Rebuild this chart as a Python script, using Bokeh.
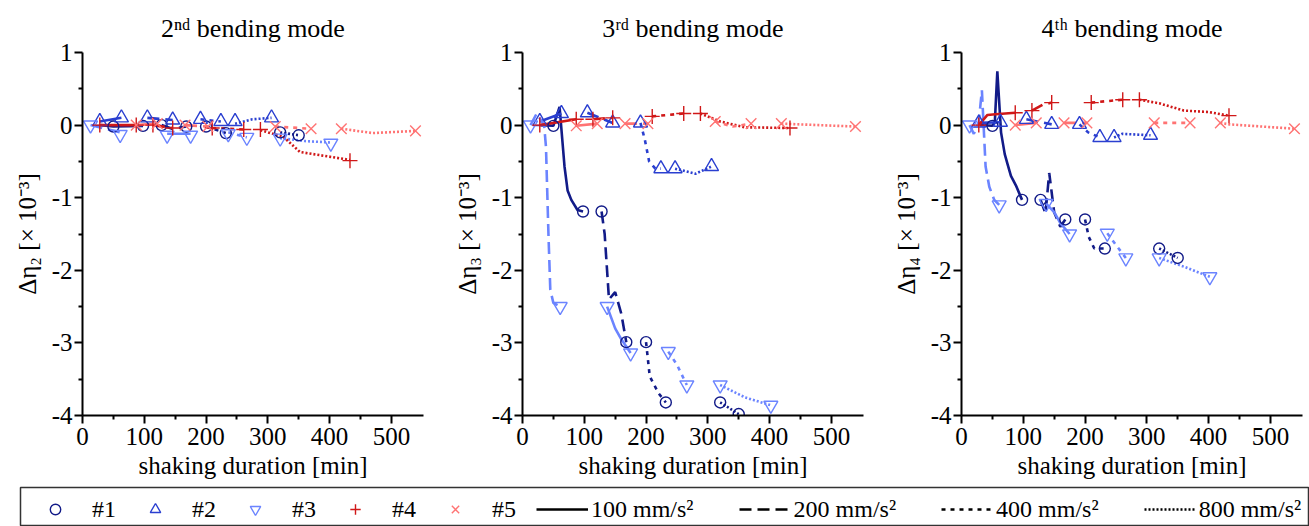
from bokeh.plotting import figure
from bokeh.layouts import column, row
from bokeh.models import Legend, LegendItem, FixedTicker
from bokeh.embed import file_html
from bokeh.resources import INLINE

nan = float("nan")
FONT = "Liberation Serif"

# ---------------- data ----------------
specimens = ["#1", "#2", "#3", "#4", "#5"]
spec_colors = ["#121b88", "#2a3fd0", "#6b84ff", "#d01818", "#ff7373"]
spec_markers = ["circle", "triangle", "inverted_triangle", "cross", "x"]
spec_sizes = [11, 14, 14, 15, 15]

levels = ["100 mm/s²", "200 mm/s²", "400 mm/s²", "800 mm/s²"]
level_dash = ["solid", "12 6", "4 5", "2 2"]
# amplitude level of the 4 consecutive line segments of each specimen
seg_levels = [[0, 1, 2, 3], [0, 1, 2, 3], [1, 0, 2, 3], [0, 1, 2, 3], [0, 1, 2, 3]]

# marker times [min] per specimen
t1 = [50, 98, 128, 168, 200, 232, 320, 350]
t2 = [28, 63, 105, 146, 191, 224, 247, 306]
t3 = [13, 61, 137, 175, 236, 266, 320, 402]
t4 = [28, 87, 114, 146, 210, 261, 288, 433]
t5 = [87, 121, 166, 203, 312, 370, 419, 539]

# 2nd bending mode: marker values
m2_y1 = [-0.02, -0.01, 0.0, -0.02, -0.02, -0.11, -0.1, -0.14]
m2_y2 = [0.05, 0.1, 0.1, 0.07, 0.08, 0.05, 0.05, 0.1]
m2_y3 = [0.0, -0.13, -0.14, -0.14, -0.12, -0.17, -0.18, -0.25]
m2_y4 = [0.0, 0.0, 0.0, -0.04, -0.04, -0.06, -0.06, -0.49]
m2_y5 = [0.0, 0.02, 0.0, -0.02, -0.02, -0.05, -0.05, -0.08]
# 2nd bending mode: line vertices (segments separated by nan)
m2_lx1 = [30, 50, 98, nan, 128, 145, 168, nan, 200, 232, nan, 320, 350]
m2_ly1 = [0, -0.02, -0.01, nan, 0.0, -0.05, -0.02, nan, -0.02, -0.11, nan, -0.1, -0.14]
m2_lx2 = [28, 63, nan, 105, 146, nan, 191, 224, nan, 247, 275, 306]
m2_ly2 = [0.05, 0.1, nan, 0.1, 0.07, nan, 0.08, 0.05, nan, 0.02, 0.08, 0.1]
m2_lx3 = [13, 61, nan, 137, 175, nan, 236, 266, nan, 320, 360, 402]
m2_ly3 = [0, -0.1, nan, -0.12, -0.12, nan, -0.1, -0.17, nan, -0.18, -0.22, -0.24]
m2_lx4 = [28, 87, nan, 114, 146, nan, 210, 261, nan, 288, 325, 352, 433]
m2_ly4 = [0, 0, nan, 0, -0.04, nan, -0.04, -0.06, nan, -0.07, -0.16, -0.37, -0.48]
m2_lx5 = [87, 121, nan, 166, 203, nan, 312, 370, nan, 419, 470, 539]
m2_ly5 = [0, 0.02, nan, 0, -0.02, nan, -0.02, -0.05, nan, -0.05, -0.11, -0.08]

# 3rd bending mode
m3_y1 = [-0.01, -1.19, -1.19, -2.99, -2.99, -3.82, -3.82, -3.98]
m3_y2 = [0.05, 0.16, 0.17, 0.03, 0.03, -0.6, -0.6, -0.57]
m3_y3 = [0.0, -2.5, -2.5, -3.14, -3.12, -3.58, -3.58, -3.86]
m3_y4 = [0.0, 0.08, 0.08, 0.1, 0.12, 0.16, 0.16, -0.04]
m3_y5 = [-0.01, 0.02, 0.02, 0.02, 0.05, 0.02, 0.02, -0.02]
m3_lx1 = [30, 50, 60, 68, 73, 79, 89, 98, nan, 128, 133, 140, 150, 160, 168, nan, 200, 206, 220, 232, nan, 320, 350]
m3_ly1 = [0, -0.01, 0.25, -0.57, -0.9, -1.03, -1.17, -1.19, nan, -1.19, -1.5, -2.4, -2.3, -2.6, -2.99, nan, -2.99, -3.46, -3.69, -3.82, nan, -3.82, -3.98]
m3_lx2 = [28, 63, nan, 105, 146, nan, 191, 198, 205, 215, 224, nan, 247, 280, 306]
m3_ly2 = [0.05, 0.16, nan, 0.17, 0.03, nan, 0.03, -0.2, -0.5, -0.6, -0.6, nan, -0.6, -0.67, -0.57]
m3_lx3 = [13, 23, 35, 38, 42, 45, 50, 61, nan, 137, 150, 160, 175, nan, 236, 250, 266, nan, 320, 360, 402]
m3_ly3 = [0, 0.16, 0, -0.3, -1.5, -2.27, -2.45, -2.5, nan, -2.5, -2.8, -2.95, -3.14, nan, -3.12, -3.3, -3.58, nan, -3.58, -3.75, -3.86]
m3_lx4 = [28, 87, nan, 114, 146, nan, 210, 261, nan, 288, 320, 360, 433]
m3_ly4 = [0, 0.08, nan, 0.08, 0.1, nan, 0.12, 0.16, nan, 0.16, 0.05, -0.03, -0.04]
m3_lx5 = [87, 121, nan, 166, 203, nan, 312, 340, 370, nan, 419, 539]
m3_ly5 = [-0.01, 0.02, nan, 0.02, 0.02, nan, 0.05, -0.02, 0.02, nan, 0.02, -0.02]

# 4th bending mode
m4_y1 = [-0.01, -1.03, -1.03, -1.3, -1.3, -1.7, -1.7, -1.83]
m4_y2 = [0.03, 0.04, 0.08, 0.01, 0.01, -0.17, -0.17, -0.14]
m4_y3 = [0.0, -1.1, -1.08, -1.5, -1.49, -1.83, -1.83, -2.09]
m4_y4 = [0.0, 0.17, 0.2, 0.31, 0.31, 0.35, 0.35, 0.13]
m4_y5 = [0.0, 0.03, 0.03, 0.03, 0.03, 0.03, 0.03, -0.05]
m4_lx1 = [30, 50, 54, 58, 64, 70, 75, 80, 88, 98, nan, 128, 136, 142, 150, 160, 168, nan, 200, 206, 215, 232, nan, 320, 350]
m4_ly1 = [0, -0.01, 0.05, 0.74, -0.1, -0.4, -0.55, -0.7, -0.83, -1.03, nan, -1.03, -1.22, -0.66, -1.2, -1.4, -1.3, nan, -1.3, -1.54, -1.7, -1.7, nan, -1.7, -1.83]
m4_lx2 = [28, 63, nan, 105, 146, nan, 191, 205, 224, nan, 247, 260, 306]
m4_ly2 = [0.03, 0.04, nan, 0.08, 0.01, nan, 0.01, -0.1, -0.17, nan, -0.17, -0.12, -0.14]
m4_lx3 = [13, 20, 28, 33, 39, 45, 53, 61, nan, 137, 150, 160, 175, nan, 236, 250, 266, nan, 320, 360, 402]
m4_ly3 = [0, -0.12, 0.05, 0.48, -0.57, -0.85, -1.03, -1.1, nan, -1.08, -1.2, -1.35, -1.5, nan, -1.49, -1.65, -1.83, nan, -1.83, -1.95, -2.09]
m4_lx4 = [28, 42, 55, 87, nan, 114, 131, 146, nan, 210, 261, nan, 288, 320, 360, 400, 433]
m4_ly4 = [0, 0.14, 0.15, 0.17, nan, 0.2, 0.28, 0.31, nan, 0.31, 0.35, nan, 0.35, 0.3, 0.2, 0.18, 0.13]
m4_lx5 = [87, 121, nan, 166, 203, nan, 312, 370, nan, 419, 434, 539]
m4_ly5 = [0, 0.03, nan, 0.03, 0.03, nan, 0.03, 0.03, nan, 0.03, 0.01, -0.05]

titles = ["2ⁿᵈ bending mode", "3ʳᵈ bending mode", "4ᵗʰ bending mode"]
ylabels = ["Δη₂ [× 10⁻³]", "Δη₃ [× 10⁻³]", "Δη₄ [× 10⁻³]"]
xlabel = "shaking duration [min]"
y_ticks = [-4, -3, -2, -1, 0, 1]
x_ticks = [0, 100, 200, 300, 400, 500]

times = [t1, t2, t3, t4, t5]
modes = [
    ([m2_y1, m2_y2, m2_y3, m2_y4, m2_y5],
     [(m2_lx1, m2_ly1), (m2_lx2, m2_ly2), (m2_lx3, m2_ly3), (m2_lx4, m2_ly4), (m2_lx5, m2_ly5)]),
    ([m3_y1, m3_y2, m3_y3, m3_y4, m3_y5],
     [(m3_lx1, m3_ly1), (m3_lx2, m3_ly2), (m3_lx3, m3_ly3), (m3_lx4, m3_ly4), (m3_lx5, m3_ly5)]),
    ([m4_y1, m4_y2, m4_y3, m4_y4, m4_y5],
     [(m4_lx1, m4_ly1), (m4_lx2, m4_ly2), (m4_lx3, m4_ly3), (m4_lx4, m4_ly4), (m4_lx5, m4_ly5)]),
]


def split_segments(xs, ys):
    segs, cx, cy = [], [], []
    for x, y in zip(xs, ys):
        if x != x:
            segs.append((cx, cy))
            cx, cy = [], []
        else:
            cx.append(x)
            cy.append(y)
    segs.append((cx, cy))
    return segs


widths = [448, 440, 421]
lefts = [82, 74, 73]
rights = [25, 25, 7]
figs = []
for k in range(3):
    p = figure(width=widths[k], height=486, x_range=(0, 552), y_range=(-4, 1),
               toolbar_location=None, output_backend="svg",
               min_border_left=lefts[k], min_border_right=rights[k],
               min_border_top=52, min_border_bottom=71)
    p.title.text = titles[k]
    p.title.align = "center"
    p.title.text_font = FONT
    p.title.text_font_size = "26px"
    p.title.text_font_style = "normal"
    p.title.text_color = "black"
    p.title.standoff = 20
    p.outline_line_color = None
    p.grid.visible = False
    p.xaxis.ticker = FixedTicker(ticks=x_ticks, minor_ticks=[50, 150, 250, 350, 450])
    p.yaxis.ticker = FixedTicker(ticks=y_ticks, minor_ticks=[-3.5, -2.5, -1.5, -0.5, 0.5])
    p.yaxis.major_label_overrides = {t: str(t) for t in y_ticks}
    p.xaxis.axis_label = xlabel
    p.yaxis.axis_label = ylabels[k]
    for ax in (p.xaxis, p.yaxis):
        ax.axis_line_width = 2
        ax.axis_line_color = "black"
        ax.major_tick_line_width = 2
        ax.minor_tick_line_width = 2
        ax.major_tick_out = 8
        ax.major_tick_in = 0
        ax.minor_tick_out = 4
        ax.minor_tick_in = 0
        ax.major_label_text_font = FONT
        ax.major_label_text_font_size = "25px"
        ax.major_label_text_color = "black"
        ax.axis_label_text_font = FONT
        ax.axis_label_text_font_size = "25px"
        ax.axis_label_text_font_style = "normal"
        ax.axis_label_text_color = "black"
    p.xaxis.major_label_standoff = 4
    p.yaxis.major_label_standoff = 2
    p.xaxis.axis_label_standoff = 4
    p.yaxis.axis_label_standoff = 8

    ys_all, lines_all = modes[k]
    for s in range(5):
        lx, ly = lines_all[s]
        for j, (sx, sy) in enumerate(split_segments(lx, ly)):
            p.line(sx, sy, line_color=spec_colors[s], line_width=2.6,
                   line_dash=level_dash[seg_levels[s][j]])
    for s in range(5):
        p.scatter(times[s], ys_all[s], marker=spec_markers[s], size=spec_sizes[s],
                  line_color=spec_colors[s], fill_color=None, line_width=1.4)
    figs.append(p)

# ---------------- legend strip ----------------
leg = figure(width=1309, height=40, x_range=(0, 1), y_range=(0, 1),
             x_axis_type=None, y_axis_type=None,
             toolbar_location=None, output_backend="svg",
             min_border_left=20, min_border_right=0, min_border_top=1, min_border_bottom=0)
leg.grid.visible = False
leg.outline_line_color = "#333333"
leg.outline_line_width = 1.5

mk_items = []
for s in range(5):
    r = leg.scatter(x=[nan], y=[nan], marker=spec_markers[s], size=11,
                    line_color=spec_colors[s], fill_color=None, line_width=1.4)
    mk_items.append(LegendItem(label=specimens[s], renderers=[r]))
ln_items = []
for j in range(4):
    r = leg.line(x=[nan, nan], y=[nan, nan], line_color="black", line_width=2.6,
                 line_dash=level_dash[j])
    ln_items.append(LegendItem(label=levels[j], renderers=[r]))

common = dict(orientation="horizontal", padding=0, margin=0, border_line_color=None,
              background_fill_alpha=0, label_text_font=FONT, label_text_font_size="24px",
              label_text_color="black", glyph_height=28)
lg1 = Legend(items=mk_items, location=(22, 3), glyph_width=26,
             label_standoff=24, spacing=26, **common)
lg2 = Legend(items=ln_items, location=(516, 3), glyph_width=52,
             label_standoff=3, spacing=45, **common)
leg.add_layout(lg1)
leg.add_layout(lg2)

layout = column(row(*figs), leg)
open("out.html", "w").write(file_html(layout, INLINE))
